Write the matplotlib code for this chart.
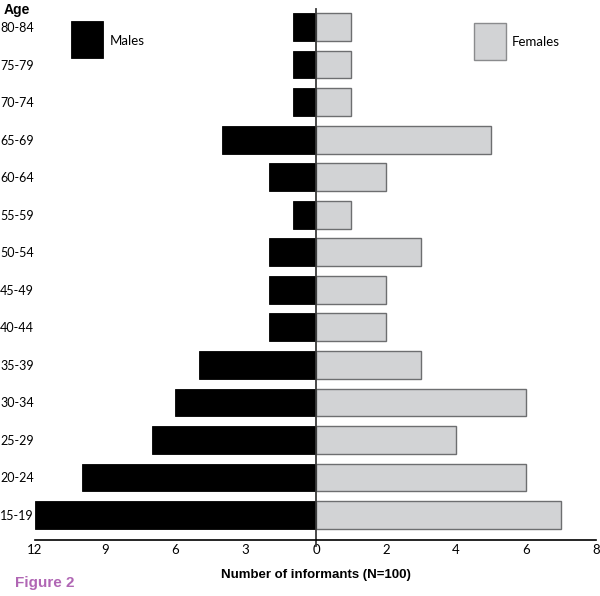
import matplotlib
matplotlib.use("Agg")
import matplotlib.pyplot as plt
from matplotlib.patches import Rectangle

ages = ["15-19", "20-24", "25-29", "30-34", "35-39", "40-44", "45-49",
        "50-54", "55-59", "60-64", "65-69", "70-74", "75-79", "80-84"]
males = [12, 10, 7, 6, 5, 2, 2, 2, 1, 2, 4, 1, 1, 1]
females = [7, 6, 4, 6, 3, 2, 2, 3, 1, 2, 5, 1, 1, 1]
male_ticks = [12, 9, 6, 3, 0]
female_ticks = [2, 4, 6, 8]

plt.rcParams['font.family'] = ['Lato', 'DejaVu Sans']

W, H = 600, 596
fig = plt.figure(figsize=(W / 100, H / 100), dpi=100)

def fx(px):
    return px / W

def fy(py):
    return 1 - py / H

top, bot = 9, 540
axL = fig.add_axes([fx(35), fy(bot), fx(316 - 35), fy(top) - fy(bot)])
axR = fig.add_axes([fx(316), fy(bot), fx(596 - 316), fy(top) - fy(bot)])

y = list(range(len(ages)))
bh = 0.74
axL.barh(y, males, height=bh, color='black', edgecolor='black', linewidth=0.6)
axR.barh(y, females, height=bh, color='#d2d3d5', edgecolor='#6d6e70', linewidth=1.0)

ylim = (-0.666, 13.48)
axL.set_xlim(12, 0)
axR.set_xlim(0, 8)
for ax in (axL, axR):
    ax.set_ylim(*ylim)
    for s in ('top', 'right', 'left'):
        ax.spines[s].set_visible(False)
    ax.spines['bottom'].set_color('black')
    ax.spines['bottom'].set_linewidth(1.2)
    ax.tick_params(axis='x', length=0, pad=3, labelsize=9.5)
    ax.tick_params(axis='y', length=0)

axL.set_xticks(male_ticks)
axL.set_xticklabels([str(t) for t in male_ticks])
axR.set_xticks(female_ticks)
axR.set_xticklabels([str(t) for t in female_ticks])
axR.set_yticks([])
axL.set_yticks(y)
axL.set_yticklabels(ages, fontsize=9)
axL.tick_params(axis='y', pad=25)
for lab in axL.get_yticklabels():
    lab.set_horizontalalignment('left')

# center line
axR.axvline(0, color='#3a3a3a', linewidth=1.3, ymin=-0.012, ymax=1, clip_on=False)

# labels
fig.text(fx(4), fy(10), "Age", fontsize=10, fontweight='bold', va='center', ha='left',
         family=['Liberation Sans', 'DejaVu Sans'])
fig.text(fx(316), fy(575), "Number of informants (N=100)", fontsize=9.5, fontweight='bold',
         va='center', ha='center', family=['Liberation Sans', 'DejaVu Sans'])
fig.text(fx(15), fy(583), "Figure 2", fontsize=11, fontweight='bold', color='#b066b4',
         va='center', ha='left', family=['Liberation Sans', 'DejaVu Sans'])

# legend boxes
fig.patches.append(Rectangle((fx(71), fy(58)), fx(32), fy(21) - fy(58), transform=fig.transFigure,
                             facecolor='black', edgecolor='black', linewidth=0.6))
fig.text(fx(110), fy(41), "Males", fontsize=9.5, va='center', ha='left')
fig.patches.append(Rectangle((fx(474), fy(60)), fx(32), fy(23) - fy(60), transform=fig.transFigure,
                             facecolor='#d2d3d5', edgecolor='#8a8b8d', linewidth=1.0))
fig.text(fx(512), fy(42), "Females", fontsize=9.5, va='center', ha='left')

fig.savefig("out.png", dpi=100)
